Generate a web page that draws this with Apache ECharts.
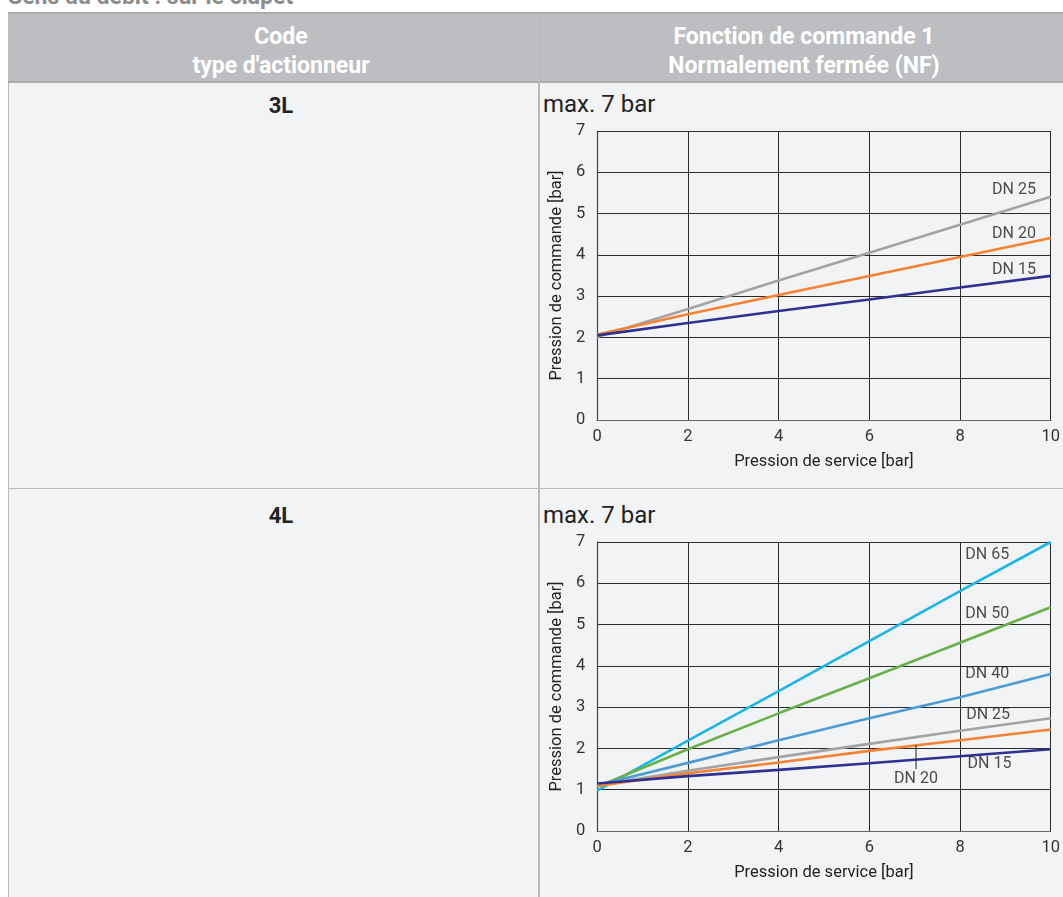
<!DOCTYPE html>
<html><head><meta charset="utf-8">
<script src="https://cdn.jsdelivr.net/npm/echarts@6/dist/echarts.min.js"></script>
<style>
body{margin:0;width:1063px;height:897px;background:#fff;font-family:Roboto,"Noto Sans",sans-serif;position:relative;overflow:hidden}
.abs{position:absolute}
#title{left:8px;top:-17px;font-size:23px;line-height:28px;font-weight:bold;color:#8c8c8c}
#hdr{left:8px;top:12px;width:1055px;height:71px;background:#bdbec1;border-top:2px solid #a9aaac;border-bottom:2px solid #a9aaac;box-sizing:border-box}
.ht{color:#fff;font-weight:bold;font-size:23px;text-align:center;line-height:29px}
.row{left:8px;width:1055px;background:#f2f3f5;border-left:1.5px solid #b9babc;box-sizing:border-box}
.vline{left:538px;width:1.5px;background:#b9babc}
.code{font-weight:bold;font-size:22px;line-height:26px;color:#222;text-align:center;width:530px;left:16px}
.max{left:543px;font-size:24px;line-height:28px;color:#222}
</style></head><body>
<div id="title" class="abs">Sens du débit : sur le clapet</div>
<div id="hdr" class="abs"></div>
<div class="abs ht" style="left:16px;width:530px;top:22px">Code<br>type d'actionneur</div>
<div class="abs ht" style="left:545px;width:518px;top:22px">Fonction de commande 1<br>Normalement fermée (NF)</div>
<div class="abs row" style="top:83px;height:405px"></div>
<div class="abs row" style="top:488px;height:409px;border-top:1.5px solid #b9babc"></div>
<div class="abs vline" style="top:12px;height:885px"></div>
<div class="abs code" style="top:93px">3L</div>
<div class="abs code" style="top:503px">4L</div>
<div class="abs max" style="top:90px">max. 7 bar</div>
<div class="abs max" style="top:501px">max. 7 bar</div>
<div id="c1" class="abs" style="left:540px;top:120px;width:523px;height:365px"></div>
<div id="c2" class="abs" style="left:540px;top:531px;width:523px;height:366px"></div>
<script>
const xVals = [0, 2, 4, 6, 8, 10];
// Chart 3L
const a_DN15 = [2.05, 2.35, 2.64, 2.92, 3.21, 3.49];
const a_DN20 = [2.07, 2.56, 3.03, 3.49, 3.95, 4.41];
const a_DN25 = [2.01, 2.69, 3.38, 4.05, 4.73, 5.41];
// Chart 4L
const b_DN15 = [1.15, 1.33, 1.48, 1.64, 1.81, 1.98];
const b_DN20 = [1.09, 1.40, 1.66, 1.94, 2.20, 2.46];
const b_DN25 = [1.11, 1.46, 1.79, 2.11, 2.43, 2.73];
const b_DN40 = [1.11, 1.65, 2.20, 2.73, 3.24, 3.80];
const b_DN50 = [1.07, 1.98, 2.85, 3.70, 4.56, 5.42];
const b_DN65 = [0.98, 2.19, 3.39, 4.60, 5.81, 7.00];
const xTicks = [0, 2, 4, 6, 8, 10];
const yTicks = [0, 1, 2, 3, 4, 5, 6, 7];
// label anchor points (data coords)
const labelsA = [["DN 25", 9.19, 5.57], ["DN 20", 9.19, 4.50], ["DN 15", 9.19, 3.63]];
const labelsB = [["DN 65", 8.6, 6.69], ["DN 50", 8.6, 5.26], ["DN 40", 8.6, 3.80], ["DN 25", 8.62, 2.81], ["DN 15", 8.65, 1.62], ["DN 20", 7.03, 1.26]];
const leaderB = [[7.03, 2.08], [7.03, 1.50]];

const COL = {DN15:'#2e3192', DN20:'#f58233', DN25:'#a3a3a3', DN40:'#4d9bd6', DN50:'#68b14a', DN65:'#19b5ea'};
const FONT = 'Roboto';

function zip(ys){ return xVals.map((x,i)=>[x, ys[i]]); }

function baseOption(bottomPx){
  return {
    animation:false,
    grid:{left:55, right:9, top:11, bottom:bottomPx},
    xAxis:{type:'value', min:0, max:10, interval:2,
      name:'Pression de service [bar]', nameLocation:'middle', nameGap:33,
      nameTextStyle:{color:'#222', fontSize:16.5, fontFamily:FONT},
      axisLine:{show:true, lineStyle:{color:'#666', width:1.2}},
      axisTick:{show:false},
      axisLabel:{color:'#333', fontSize:16.5, fontFamily:FONT, margin:8, formatter:v=>xTicks.includes(v)?String(v):''},
      splitLine:{show:true, lineStyle:{color:'#2a2a2a', width:1}}},
    yAxis:{type:'value', min:0, max:7, interval:1,
      name:'Pression de commande [bar]', nameLocation:'middle', nameGap:32,
      nameTextStyle:{color:'#222', fontSize:16.5, fontFamily:FONT},
      axisLine:{show:true, lineStyle:{color:'#444', width:1.2}},
      axisTick:{show:false},
      axisLabel:{color:'#333', fontSize:16.5, fontFamily:FONT, margin:12, formatter:v=>yTicks.includes(v)?String(v):''},
      splitLine:{show:true, lineStyle:{color:'#2a2a2a', width:1}}},
    series:[]
  };
}
function lineS(name, data, color){
  return {type:'line', name, data:zip(data), symbol:'none', lineStyle:{color, width:2.6}, z:3};
}
function labelS(labels){
  return {type:'scatter', symbolSize:0, silent:true, z:5,
    data:labels.map(l=>({value:[l[1], l[2]], name:l[0]})),
    label:{show:true, position:'inside', formatter:p=>p.name, color:'#222', fontSize:16, fontFamily:FONT}};
}

const c1 = echarts.init(document.getElementById('c1'));
const o1 = baseOption(65);
o1.series = [
  lineS('DN 25', a_DN25, COL.DN25),
  lineS('DN 20', a_DN20, COL.DN20),
  lineS('DN 15', a_DN15, COL.DN15),
  labelS(labelsA)
];
c1.setOption(o1);

const c2 = echarts.init(document.getElementById('c2'));
const o2 = baseOption(66);
o2.series = [
  lineS('DN 65', b_DN65, COL.DN65),
  lineS('DN 50', b_DN50, COL.DN50),
  lineS('DN 40', b_DN40, COL.DN40),
  lineS('DN 25', b_DN25, COL.DN25),
  lineS('DN 20', b_DN20, COL.DN20),
  lineS('DN 15', b_DN15, COL.DN15),
  {type:'line', data:leaderB, symbol:'none', lineStyle:{color:'#222', width:1}, z:4, silent:true},
  labelS(labelsB)
];
c2.setOption(o2);
</script>
</body></html>
